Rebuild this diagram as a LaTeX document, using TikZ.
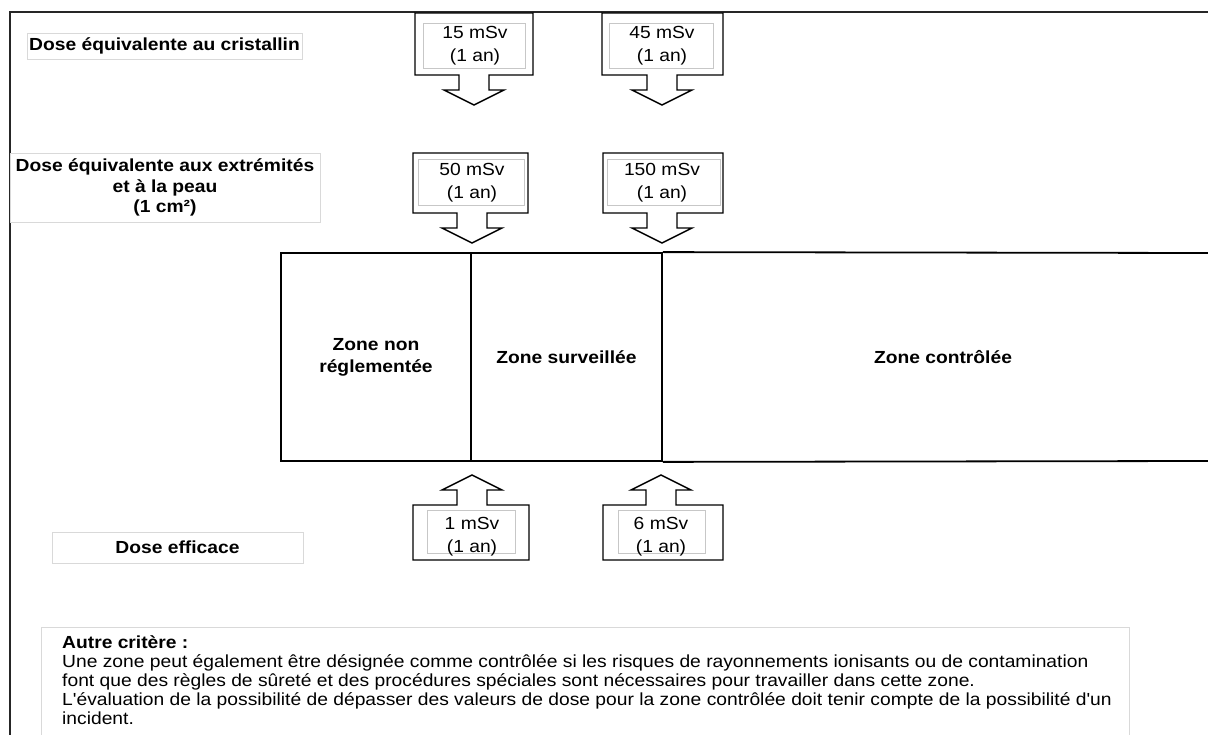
\documentclass[tikz,border=0pt]{standalone}
\usepackage{fontspec}
\setmainfont{Liberation Sans}[FakeStretch=1.1,Ligatures=TeXOff]
\begin{document}
\begin{tikzpicture}[x=1pt,y=-1pt,
  frame/.style={line width=2pt, draw=black!85},
  labelbox/.style={draw=black!15, line width=0.8pt},
  valbox/.style={draw=black!22, line width=0.8pt},
  blockarrow/.style={draw=black, line width=1.4pt, fill=white, line join=miter},
  zoneline/.style={draw=black, line width=1.8pt},
  lbl/.style={font=\bfseries\fontsize{17.5}{20.5}\selectfont, align=center, inner sep=0pt},
  val/.style={font=\fontsize{17.5}{23}\selectfont, align=center, inner sep=0pt},
  zonetxt/.style={font=\bfseries\fontsize{17.5}{22}\selectfont, align=center, inner sep=0pt},
]
\useasboundingbox (0,0) rectangle (1208,735);

% block arrows: #1 left, #2 right, #3 top, #4 bottom, #5 axis
\newcommand\dosedown[5]{%
  \draw[blockarrow] (#1,#3) -- (#2,#3) -- (#2,#4) -- (#5+15,#4) -- (#5+15,#4+15)
    -- (#5+30,#4+15) -- (#5,#4+30) -- (#5-30,#4+15) -- (#5-15,#4+15)
    -- (#5-15,#4) -- (#1,#4) -- cycle;}
\newcommand\doseup[5]{%
  \draw[blockarrow] (#1,#4) -- (#2,#4) -- (#2,#3) -- (#5+15,#3) -- (#5+15,#3-15)
    -- (#5+30,#3-15) -- (#5,#3-30) -- (#5-30,#3-15) -- (#5-15,#3-15)
    -- (#5-15,#3) -- (#1,#3) -- cycle;}

% outer frame
\draw[frame] (1208,12) -- (10,12) -- (10,735);

% row labels
\node[lbl, labelbox, minimum width=275, minimum height=26] (lcrist) at (164.5,46) {Dose équivalente au cristallin};
\node[lbl, labelbox, minimum width=310, minimum height=69] (lpeau) at (165,187.5) {Dose équivalente aux extrémités\\et à la peau\\(1 cm²)};
\node[lbl, labelbox, minimum width=251, minimum height=31] (leff) at (177.5,547.5) {Dose efficace};

% lens of the eye
\dosedown{415}{533}{13}{75}{474}
\draw[valbox] (423,23) rectangle (525,68);
\node[val] (c15) at (475,45.5) {15 mSv\\(1 an)};
\dosedown{602}{723}{13}{75}{662}
\draw[valbox] (609,23) rectangle (713,68);
\node[val] (c45) at (662,45.5) {45 mSv\\(1 an)};

% extremities and skin
\dosedown{413}{528}{153}{213}{472}
\draw[valbox] (418,159) rectangle (524,205);
\node[val] (p50) at (472,183) {50 mSv\\(1 an)};
\dosedown{603}{723}{153}{213}{662}
\draw[valbox] (607,159) rectangle (720,205);
\node[val] (p150) at (662,183) {150 mSv\\(1 an)};

% zones
\node[zonetxt, draw, zoneline, minimum width=190, minimum height=208] (znr) at (376,357) {Zone non\\réglementée};
\node[zonetxt, draw, zoneline, minimum width=191, minimum height=208] (zsv) at (566.5,357) {Zone surveillée};
\node[zonetxt] (zct) at (943,357) {Zone contrôlée};
\draw[zoneline] (zsv.north east) -- (1208,253);
\draw[zoneline] (zsv.south east) -- (1208,461);

% effective dose
\doseup{413}{529}{505}{560}{472}
\draw[valbox] (427,510) rectangle (515,553);
\node[val] (e1) at (472,536.5) {1 mSv\\(1 an)};
\doseup{603}{723}{505}{560}{661}
\draw[valbox] (618,510) rectangle (705,553);
\node[val] (e6) at (661,536.5) {6 mSv\\(1 an)};

% other criterion
\draw[labelbox] (41,735) -- (41,627) -- (1129,627) -- (1129,735);
\node[anchor=north west, align=left, inner sep=0pt, font=\fontsize{17.5}{19}\selectfont] (crit) at (62,635)
 {\textbf{Autre critère :}\\
  Une zone peut également être désignée comme contrôlée si les risques de rayonnements ionisants ou de contamination\\
  font que des règles de sûreté et des procédures spéciales sont nécessaires pour travailler dans cette zone.\\
  L'évaluation de la possibilité de dépasser des valeurs de dose pour la zone contrôlée doit tenir compte de la possibilité d'un\\
  incident.};
\end{tikzpicture}
\end{document}
